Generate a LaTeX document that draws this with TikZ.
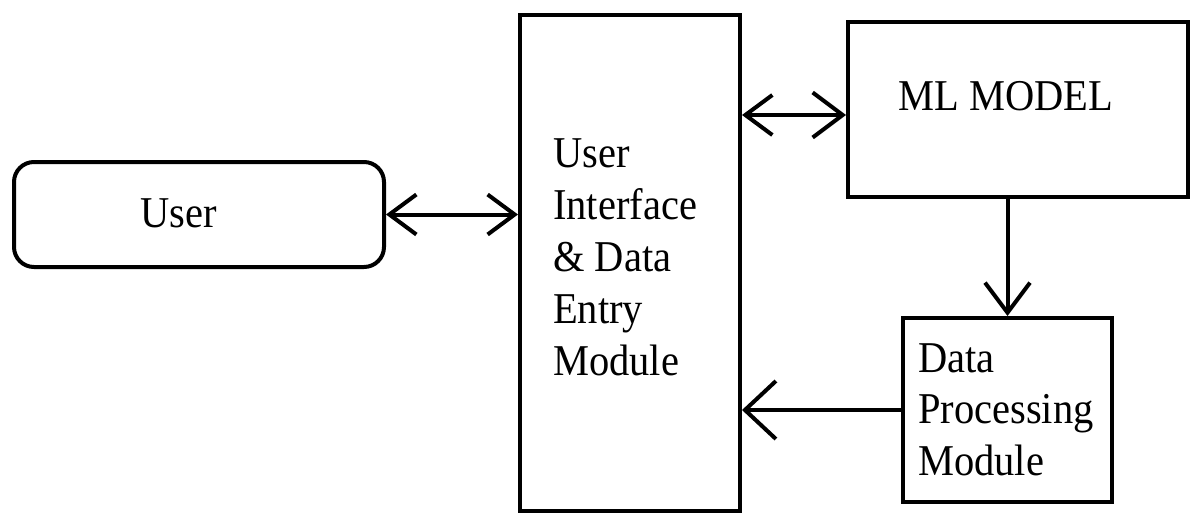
\documentclass[tikz,border=0pt]{standalone}
\usepackage{fontspec}
\setmainfont{Liberation Serif}[FakeStretch=0.92]
\usetikzlibrary{arrows.meta}
\begin{document}
\begin{tikzpicture}[x=1pt,y=-1pt,
  box/.style={draw=black,line width=4pt,minimum width=#1,inner sep=0pt},
  lbl/.style={anchor=base west,inner sep=0pt,font=\fontsize{44}{52}\selectfont},
  conn/.style={line width=4pt},
  barbS/.tip={Straight Barb[length=27pt,width=40pt]},
  barbM/.tip={Straight Barb[length=30pt,width=45pt]},
  barbL/.tip={Straight Barb[length=31pt,width=58pt]}]
\useasboundingbox (0,0) rectangle (1192,515);
\fill[white] (0,0) rectangle (1192,515);
% boxes
\node[box=370pt,minimum height=105pt,rounded corners=20pt] (user) at (199,214.5) {};
\node[box=220pt,minimum height=496pt] (ui) at (630,263) {};
\node[box=340pt,minimum height=175pt] (ml) at (1018,109.5) {};
\node[box=209pt,minimum height=184pt] (dp) at (1007.5,410) {};
% texts
\node[lbl] (userT) at (140,227) {User};
\node[lbl] (uiT) at (553,167) {\parbox[t]{200pt}{\fontsize{44}{52}\selectfont User\\Interface\\\&~Data\\Entry\\Module}};
\node[lbl] (mlT) at (898,110) {ML MODEL};
\node[lbl] (dpT) at (918,372) {\parbox[t]{200pt}{\fontsize{44}{51.5}\selectfont Data\\Processing\\Module}};
% connectors
\coordinate (mlIn) at ([yshift=-5.5pt]ml.west);
\draw[conn,barbS-barbS] (user.east) -- (ui.west |- user.east);
\draw[conn,barbS-barbM] (ui.east |- mlIn) -- (mlIn);
\draw[conn,-barbM] (ml.south -| dp.north) -- (dp.north);
\draw[conn,-barbL] (dp.west) -- (ui.east |- dp.west);
\end{tikzpicture}
\end{document}
